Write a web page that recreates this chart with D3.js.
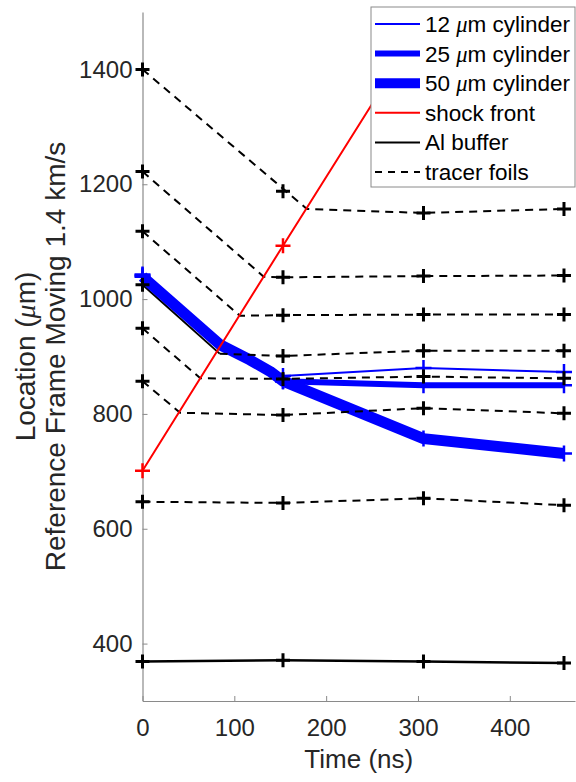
<!DOCTYPE html>
<html>
<head>
<meta charset="utf-8">
<script src="https://cdn.jsdelivr.net/npm/d3@7"></script>
<style>
  body { margin: 0; background: #fff; }
  svg { font-family: "Liberation Sans", Arial, sans-serif; }
</style>
</head>
<body>
<svg id="chart" width="576" height="782"></svg>
<script>
// measurement times (ns)
const times = [0, 153, 306, 459];

// tracer foils: marker positions at each time (um)
const foilMarks = [
  [1400, 1188, 1150, 1157],
  [1222, 1038, 1040, 1041],
  [1118, 972, 973, 973],
  [1025, 901, 910, 910],
  [949, 861, 865, 862],
  [857, 798, 810, 801],
  [647, 645, 653, 641]
];
// where each foil's dashed track turns flat [time, location]
const foilKinks = [[179, 1157], [132, 1039], [106, 971], [84, 905], [63, 862], [41, 802], null];

// Al buffer
const bufferMarks = [369, 371, 369, 366];

// shock front
const shockTimes = [0, 153, 313];
const shockMarks = [701, 1093, 1500];

// cylinders, path sampled at extra times
const cylTimes = [0, 85, 117, 139, 153, 306, 459];
const cyl12 = [1043, 924, 898, 879, 866, 880, 873];
const cyl25 = [1041, 922, 896, 876, 857, 850, 850];
const cyl50 = [1039, 920, 894, 874, 857, 757, 731];

const xTicks = [0, 100, 200, 300, 400];
const yTicks = [400, 600, 800, 1000, 1200, 1400];

const legendItems = [
  { pre: "12 ", mu: true, post: "m cylinder", color: "#0000ff", w: 2, dash: null },
  { pre: "25 ", mu: true, post: "m cylinder", color: "#0000ff", w: 6, dash: null },
  { pre: "50 ", mu: true, post: "m cylinder", color: "#0000ff", w: 10, dash: null },
  { pre: "shock front", color: "#ff0000", w: 2, dash: null },
  { pre: "Al buffer", color: "#000", w: 2, dash: null },
  { pre: "tracer foils", color: "#000", w: 2, dash: "7,6" }
];

const svg = d3.select("#chart");
const x = d3.scaleLinear().domain([0, 471]).range([142.5, 575]);
const y = d3.scaleLinear().domain([300, 1500]).range([701, 12]);

svg.append("defs").append("clipPath").attr("id", "plotClip")
  .append("rect")
  .attr("x", x(0) - 10).attr("y", y(1500))
  .attr("width", x(471) - x(0) + 20).attr("height", y(300) - y(1500));

// axes
const axisColor = "#8a8a8a";
const gx = svg.append("g")
  .attr("transform", `translate(0,${y(300)})`)
  .call(d3.axisBottom(x).tickValues(xTicks).tickFormat(d3.format("d"))
    .tickSizeInner(-5).tickSizeOuter(0).tickPadding(18));
const gy = svg.append("g")
  .attr("transform", `translate(${x(0)},0)`)
  .call(d3.axisLeft(y).tickValues(yTicks).tickFormat(d3.format("d"))
    .tickSizeInner(-5).tickSizeOuter(0).tickPadding(10));
[gx, gy].forEach(g => {
  g.select(".domain").attr("stroke", axisColor).attr("stroke-width", 1.2);
  g.selectAll(".tick line").attr("stroke", axisColor);
  g.selectAll(".tick text").attr("fill", "#262626").attr("font-size", 24)
    .attr("font-family", "Liberation Sans, Arial, sans-serif");
});

svg.append("text")
  .attr("x", (x(0) + 575) / 2).attr("y", 768)
  .attr("text-anchor", "middle").attr("font-size", 26).attr("fill", "#262626")
  .text("Time (ns)");

const yTitle = svg.append("text")
  .attr("transform", `translate(35,${(y(300) + y(1500)) / 2}) rotate(-90)`)
  .attr("text-anchor", "middle").attr("font-size", 28).attr("fill", "#262626");
yTitle.append("tspan").attr("x", 0).attr("dy", 0).text("Location (");
yTitle.append("tspan").attr("font-style", "italic").attr("font-family", "Liberation Serif, serif").text("\u03bc");
yTitle.append("tspan").text("m)");
yTitle.append("tspan").attr("x", 0).attr("dy", 30).text("Reference Frame Moving 1.4 km/s");

// marks
const plot = svg.append("g").attr("clip-path", "url(#plotClip)");
const line = d3.line().x(d => x(d[0])).y(d => y(d[1]));

// solid edge of foil 4 running beside the cylinders
plot.append("path")
  .attr("d", line([[times[0], foilMarks[3][0]], foilKinks[3]]))
  .attr("fill", "none").attr("stroke", "#000").attr("stroke-width", 2);

// cylinders
[[cyl50, 11], [cyl25, 6], [cyl12, 2]].forEach(([vals, w]) => {
  plot.append("path")
    .attr("d", line(cylTimes.map((t, i) => [t, vals[i]])))
    .attr("fill", "none").attr("stroke", "#0000ff").attr("stroke-width", w)
    .attr("stroke-linejoin", "round");
});

// tracer foils
foilMarks.forEach((vals, k) => {
  const kink = foilKinks[k];
  let pts;
  if (kink) {
    pts = [[times[0], vals[0]], kink];
    times.forEach((t, i) => { if (t > kink[0]) pts.push([t, vals[i]]); });
  } else {
    pts = times.map((t, i) => [t, vals[i]]);
  }
  plot.append("path")
    .attr("d", line(k === 3 ? pts.slice(1) : pts))
    .attr("fill", "none").attr("stroke", "#000").attr("stroke-width", 2)
    .attr("stroke-dasharray", "8,6");
});

// Al buffer
plot.append("path")
  .attr("d", line(times.map((t, i) => [t, bufferMarks[i]])))
  .attr("fill", "none").attr("stroke", "#000").attr("stroke-width", 2.5);

// shock front
plot.append("path")
  .attr("d", line(shockTimes.map((t, i) => [t, shockMarks[i]])))
  .attr("fill", "none").attr("stroke", "#ff0000").attr("stroke-width", 2);

// plus markers
const plus = (pts, color, size, w) => {
  plot.append("g").selectAll("path").data(pts).join("path")
    .attr("d", d => {
      const cx = x(d[0]), cy = y(d[1]);
      return `M${cx - size},${cy}H${cx + size}M${cx},${cy - size}V${cy + size}`;
    })
    .attr("stroke", color).attr("stroke-width", w).attr("fill", "none");
};
[cyl12, cyl25, cyl50].forEach(vals => {
  plus(cylTimes.map((t, i) => [t, vals[i]]).filter(d => times.includes(d[0])), "#0000ff", 8, 2.5);
});
foilMarks.forEach(vals => plus(times.map((t, i) => [t, vals[i]]), "#000", 7, 3));
plus(times.map((t, i) => [t, bufferMarks[i]]), "#000", 7, 3);
plus(shockTimes.slice(0, 2).map((t, i) => [t, shockMarks[i]]), "#ff0000", 7.5, 2.5);

// legend
const lg = svg.append("g");
lg.append("rect")
  .attr("x", 371).attr("y", 7).attr("width", 204).attr("height", 180)
  .attr("fill", "#fff").attr("stroke", "#8a8a8a").attr("stroke-width", 1);
legendItems.forEach((it, i) => {
  const cy = 24 + i * 29.6;
  lg.append("line")
    .attr("x1", 375).attr("x2", 420).attr("y1", cy).attr("y2", cy)
    .attr("stroke", it.color).attr("stroke-width", it.w)
    .attr("stroke-dasharray", it.dash);
  const t = lg.append("text")
    .attr("x", 425).attr("y", cy + 8)
    .attr("font-size", 22.5).attr("fill", "#000");
  t.append("tspan").text(it.pre);
  if (it.mu) {
    t.append("tspan").attr("font-style", "italic").attr("font-family", "Liberation Serif, serif").text("\u03bc");
    t.append("tspan").text(it.post);
  }
});
</script>
</body>
</html>
